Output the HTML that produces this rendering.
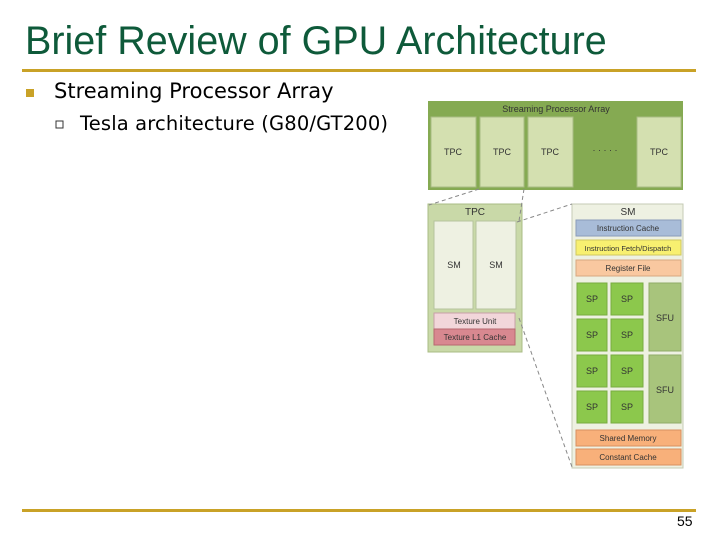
<!DOCTYPE html>
<html><head><meta charset="utf-8"><style>
html,body{margin:0;padding:0;background:#fff;}
body{width:720px;height:540px;overflow:hidden;position:relative;}
</style></head><body>
<svg width="720" height="540" xmlns="http://www.w3.org/2000/svg" style="position:absolute;left:0;top:0">
<text x="25" y="54" font-family="Liberation Sans, sans-serif" font-size="39.5" fill="#0e5a3a">Brief Review of GPU Architecture</text>
<rect x="22" y="69" width="674" height="3" fill="#c9a227"/>
<rect x="26" y="89" width="8" height="8" fill="#c9a227"/>
<text x="54" y="98" font-family="DejaVu Sans, sans-serif" font-size="21" fill="#000">Streaming Processor Array</text>
<rect x="56" y="121" width="7" height="7" fill="none" stroke="#333" stroke-width="1"/>
<text x="80" y="130" font-family="DejaVu Sans, sans-serif" font-size="19.5" fill="#000" textLength="308">Tesla architecture (G80/GT200)</text>
<rect x="22" y="509" width="674" height="3" fill="#c9a227"/>
<text x="677" y="526" font-family="Liberation Sans, sans-serif" font-size="14" fill="#000">55</text>

<g font-family="Liberation Sans, sans-serif" font-size="9" text-anchor="middle" fill="#333">
<rect x="428" y="101" width="255" height="89" fill="#85aa52"/>
<text x="556" y="112">Streaming Processor Array</text>
<g fill="#d4e0b0" stroke="#a9bc84">
<rect x="431" y="117" width="45" height="70"/><rect x="480" y="117" width="44" height="70"/>
<rect x="528" y="117" width="45" height="70"/><rect x="637" y="117" width="44" height="70"/></g>
<text x="453" y="155">TPC</text><text x="502" y="155">TPC</text><text x="550" y="155">TPC</text><text x="605" y="153">· · · · ·</text><text x="659" y="155">TPC</text>

<rect x="428" y="204" width="94" height="148" fill="#c9d9a8" stroke="#a9bc84"/>
<text x="475" y="215" font-size="10">TPC</text>
<rect x="434" y="221" width="39" height="88" fill="#eef1e2" stroke="#b5c29d"/>
<rect x="476" y="221" width="40" height="88" fill="#eef1e2" stroke="#b5c29d"/>
<text x="454" y="268">SM</text><text x="496" y="268">SM</text>
<rect x="434" y="313" width="81" height="16" fill="#f2d6da" stroke="#c8a0a8"/>
<rect x="434" y="329" width="81" height="16" fill="#d88890" stroke="#b86870"/>
<text x="475" y="324" font-size="8">Texture Unit</text><text x="475" y="340" font-size="8">Texture L1 Cache</text>

<rect x="572" y="204" width="111" height="264" fill="#eef1e2" stroke="#c5cbb5"/>
<text x="628" y="215" font-size="10">SM</text>
<rect x="576" y="220" width="105" height="16" fill="#a8bcd8" stroke="#8a9cba"/>
<text x="628" y="231" font-size="8">Instruction Cache</text>
<rect x="576" y="240" width="105" height="15" fill="#f8f070" stroke="#d0c860"/>
<text x="628" y="251" font-size="7.5">Instruction Fetch/Dispatch</text>
<rect x="576" y="260" width="105" height="16" fill="#f9c8a0" stroke="#d8a880"/>
<text x="628" y="271" font-size="8">Register File</text>
<g fill="#8cc84c" stroke="#78ac40">
<rect x="577" y="283" width="30" height="32"/><rect x="611" y="283" width="32" height="32"/>
<rect x="577" y="319" width="30" height="32"/><rect x="611" y="319" width="32" height="32"/>
<rect x="577" y="355" width="30" height="32"/><rect x="611" y="355" width="32" height="32"/>
<rect x="577" y="391" width="30" height="32"/><rect x="611" y="391" width="32" height="32"/></g>
<g fill="#a8c47c" stroke="#90ac68">
<rect x="649" y="283" width="32" height="68"/><rect x="649" y="355" width="32" height="68"/></g>
<text x="592" y="302">SP</text><text x="627" y="302">SP</text>
<text x="592" y="338">SP</text><text x="627" y="338">SP</text>
<text x="592" y="374">SP</text><text x="627" y="374">SP</text>
<text x="592" y="410">SP</text><text x="627" y="410">SP</text>
<text x="665" y="321">SFU</text><text x="665" y="393">SFU</text>
<rect x="576" y="430" width="105" height="16" fill="#f8b07a" stroke="#d89060"/>
<rect x="576" y="449" width="105" height="16" fill="#f8b07a" stroke="#d89060"/>
<text x="628" y="441" font-size="8">Shared Memory</text><text x="628" y="460" font-size="8">Constant Cache</text>
</g>
<g stroke="#888" stroke-width="1" stroke-dasharray="4,3" fill="none">
<line x1="479" y1="189" x2="429" y2="205"/>
<line x1="524" y1="189" x2="519" y2="221"/>
<line x1="517" y1="222" x2="572" y2="204"/>
<line x1="519" y1="318" x2="572" y2="467"/>
</g>
</svg>
</body></html>
